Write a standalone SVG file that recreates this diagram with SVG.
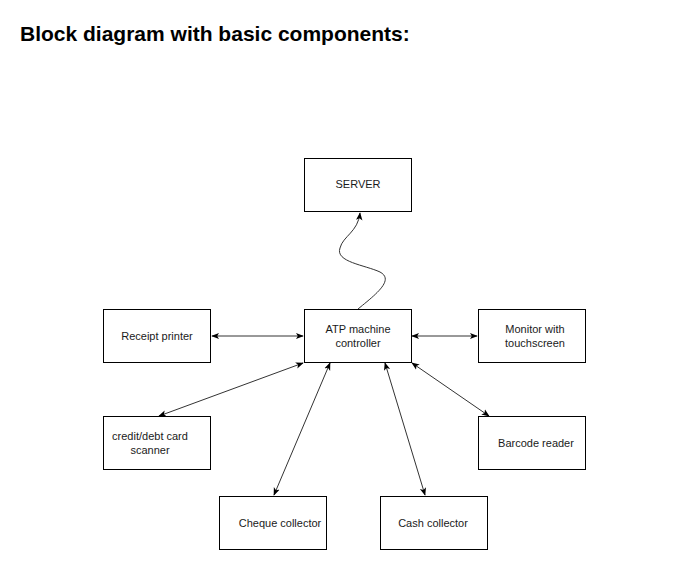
<svg xmlns="http://www.w3.org/2000/svg" width="694" height="583" viewBox="0 0 694 583">
<defs>
<marker id="a" viewBox="0 0 10 10" refX="9" refY="5" markerWidth="8" markerHeight="8" orient="auto-start-reverse" markerUnits="userSpaceOnUse">
<path d="M0,1 L10,5 L0,9 L2.5,5 Z" fill="#000"/>
</marker>
</defs>
<style>
.box{fill:#fff;stroke:#000;stroke-width:1}
.t{font-family:"Liberation Sans",Arial,sans-serif;font-size:11px;fill:#1a1a1a;text-anchor:middle}
.c{fill:none;stroke:#333;stroke-width:1;marker-start:url(#a);marker-end:url(#a)}
</style>
<rect width="694" height="583" fill="#fff"/>
<text x="20" y="41" font-family="'Liberation Sans',Arial,sans-serif" font-size="21" font-weight="bold" fill="#000">Block diagram with basic components:</text>
<g id="connectors">
<path d="M358,309 C375,295 395,280 380,272 C365,265 335,262 340,248 C343,236 358,232 360,213" fill="none" stroke="#333" stroke-width="1" marker-end="url(#a)"/>
<line class="c" x1="212" y1="336" x2="303" y2="336"/>
<line class="c" x1="412" y1="336" x2="477" y2="336"/>
<line class="c" x1="159" y1="416" x2="303" y2="363"/>
<line class="c" x1="274" y1="495" x2="330" y2="363"/>
<line class="c" x1="425" y1="495" x2="385" y2="363"/>
<line class="c" x1="489" y1="416" x2="412" y2="363"/>
</g>
<g id="server"><rect class="box" x="304.5" y="158.5" width="107" height="53"/><text class="t" x="358" y="188">SERVER</text></g>
<g id="controller"><rect class="box" x="304.5" y="309.5" width="107" height="53"/><text class="t" x="358" y="333">ATP machine</text><text class="t" x="358" y="347">controller</text></g>
<g id="receipt"><rect class="box" x="103.5" y="309.5" width="107" height="53"/><text class="t" x="157" y="340">Receipt printer</text></g>
<g id="monitor"><rect class="box" x="478.5" y="309.5" width="107" height="53"/><text class="t" x="535" y="333">Monitor with</text><text class="t" x="535" y="347">touchscreen</text></g>
<g id="card"><rect class="box" x="103.5" y="416.5" width="107" height="53"/><text class="t" x="150" y="440">credit/debt card</text><text class="t" x="150" y="454">scanner</text></g>
<g id="barcode"><rect class="box" x="478.5" y="416.5" width="107" height="53"/><text class="t" x="536" y="447">Barcode reader</text></g>
<g id="cheque"><rect class="box" x="219.5" y="496.5" width="107" height="53"/><text class="t" x="280" y="527">Cheque collector</text></g>
<g id="cash"><rect class="box" x="380.5" y="496.5" width="107" height="53"/><text class="t" x="433" y="527">Cash collector</text></g>
</svg>
